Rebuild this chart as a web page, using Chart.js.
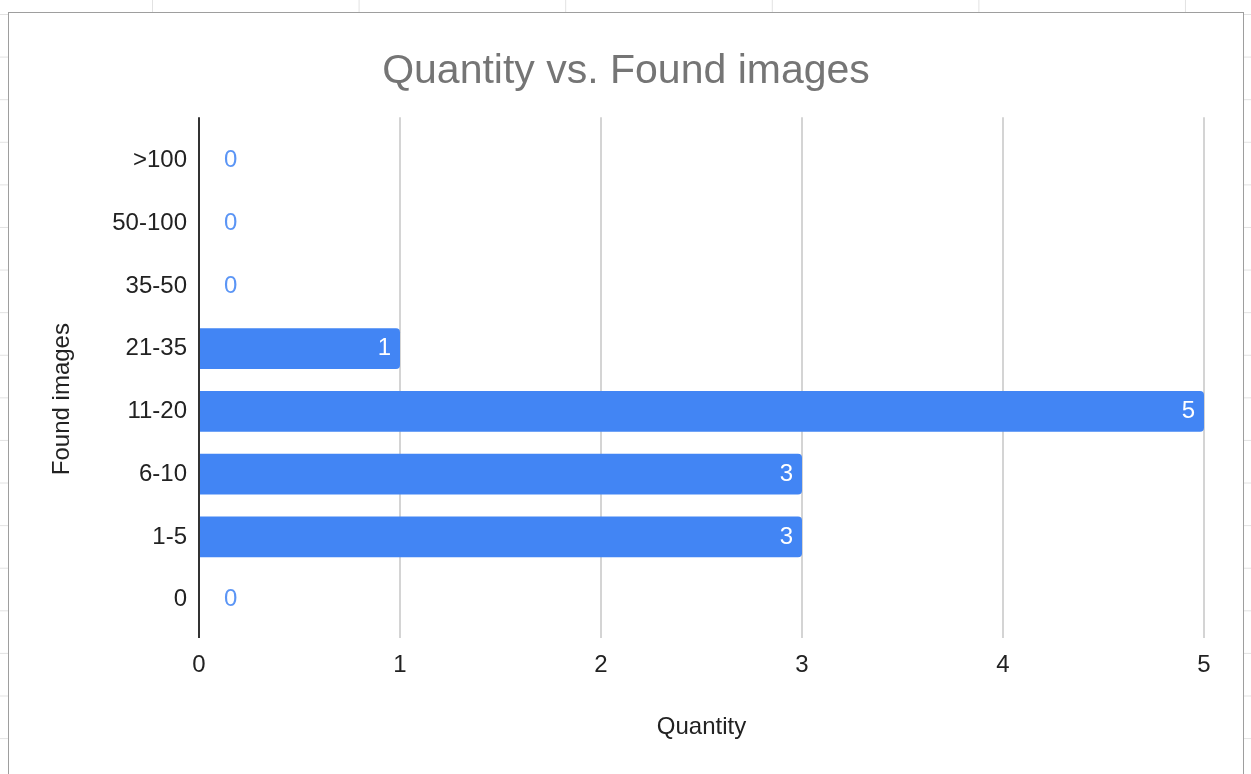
<!DOCTYPE html>
<html>
<head>
<meta charset="utf-8">
<title>Quantity vs. Found images</title>
<script src="https://cdn.jsdelivr.net/npm/chart.js@4"></script>
<style>
    html, body { margin: 0; padding: 0; }
    body {
        width: 1251px;
        height: 774px;
        overflow: hidden;
        position: relative;
        /* sheet cell lines behind the chart */
        background:
            linear-gradient(to right, #e2e2e2 1px, transparent 1px) 152px 0 / 206.6px 100%,
            linear-gradient(to bottom, #e2e2e2 1px, transparent 1px) 0 14px / 100% 42.6px,
            #fff;
    }
    #frame {
        position: absolute;
        left: 8px;
        top: 12px;
        width: 1234px;
        height: 780px;
        border: 1px solid #9e9e9e;
        background: #fff;
    }
    canvas { display: block; }
</style>
</head>
<body>
<div id="frame">
    <canvas id="foundChart" width="1234" height="761" style="width:1234px;height:761px"></canvas>
</div>
<script>
"use strict";

const categories = ['>100', '50-100', '35-50', '21-35', '11-20', '6-10', '1-5', '0'];
const quantities = [0, 0, 0, 1, 5, 3, 3, 0];
const quantityTicks = [0, 1, 2, 3, 4, 5];

const FONT = '"Liberation Sans", Arial, sans-serif';
const BAR_BLUE = '#4285f4';

Chart.defaults.font.family = FONT;
Chart.defaults.color = '#222222';

// grid lines overshoot the plot a little
const LINE_TOP = 12;
const LINE_BOTTOM = 7;

// vertical grid lines, baseline drawn dark on top of bars
const gridLines = {
    id: 'gridLines',
    beforeDatasetsDraw(chart) {
        const {ctx, chartArea, scales: {x}} = chart;
        ctx.save();
        ctx.lineWidth = 2;
        ctx.strokeStyle = '#d4d4d4';
        x.ticks.forEach(t => {
            if (t.value === 0) return;
            const px = Math.round(x.getPixelForValue(t.value));
            ctx.beginPath();
            ctx.moveTo(px, chartArea.top - LINE_TOP);
            ctx.lineTo(px, chartArea.bottom + LINE_BOTTOM);
            ctx.stroke();
        });
        ctx.restore();
    },
    afterDatasetsDraw(chart) {
        const {ctx, chartArea, scales: {x}} = chart;
        const px = Math.round(x.getPixelForValue(0));
        ctx.save();
        ctx.lineWidth = 2;
        ctx.strokeStyle = '#333333';
        ctx.beginPath();
        ctx.moveTo(px, chartArea.top - LINE_TOP);
        ctx.lineTo(px, chartArea.bottom + LINE_BOTTOM);
        ctx.stroke();
        ctx.restore();
    }
};

// value labels: inside the bar end, or next to the axis for zero
const valueLabels = {
    id: 'valueLabels',
    afterDatasetsDraw(chart) {
        const {ctx} = chart;
        const meta = chart.getDatasetMeta(0);
        ctx.save();
        ctx.font = '24px ' + FONT;
        ctx.textBaseline = 'middle';
        meta.data.forEach((bar, i) => {
            const v = quantities[i];
            if (v > 0) {
                ctx.fillStyle = '#ffffff';
                ctx.textAlign = 'right';
                ctx.fillText(String(v), bar.x - 9, bar.y);
            } else {
                ctx.fillStyle = '#5b95f5';
                ctx.textAlign = 'left';
                ctx.fillText(String(v), bar.base + 25, bar.y);
            }
        });
        ctx.restore();
    }
};

// y axis title sits a bit below the middle of the plot
const yTitle = {
    id: 'yTitle',
    afterDraw(chart) {
        const {ctx, chartArea} = chart;
        ctx.save();
        ctx.translate(53, (chartArea.top + chartArea.bottom) / 2 + 19);
        ctx.rotate(-Math.PI / 2);
        ctx.font = '24px ' + FONT;
        ctx.fillStyle = '#222222';
        ctx.textAlign = 'center';
        ctx.textBaseline = 'middle';
        ctx.fillText('Found images', 0, 0);
        ctx.restore();
    }
};

new Chart(document.getElementById('foundChart'), {
    type: 'bar',
    data: {
        labels: categories,
        datasets: [{
            label: 'Quantity',
            data: quantities,
            backgroundColor: BAR_BLUE,
            borderRadius: 4,
            barPercentage: 0.65,
            categoryPercentage: 1
        }]
    },
    options: {
        indexAxis: 'y',
        responsive: false,
        animation: false,
        layout: {
            padding: {left: 39, right: 39, top: 13, bottom: 32}
        },
        plugins: {
            legend: {display: false},
            tooltip: {enabled: false},
            title: {
                display: true,
                text: 'Quantity vs. Found images',
                color: '#757575',
                font: {size: 41, weight: 'normal'},
                padding: {top: 21, bottom: 33}
            }
        },
        scales: {
            x: {
                min: quantityTicks[0],
                max: quantityTicks[quantityTicks.length - 1],
                grid: {display: false, drawTicks: false},
                border: {display: false},
                ticks: {
                    stepSize: 1,
                    padding: 20,
                    color: '#222222',
                    font: {size: 24}
                },
                title: {
                    display: true,
                    text: 'Quantity',
                    color: '#222222',
                    font: {size: 24},
                    padding: 0
                },
                afterFit(scale) { scale.height = 111; }
            },
            y: {
                grid: {display: false, drawTicks: false},
                border: {display: false},
                ticks: {
                    padding: 12,
                    color: '#222222',
                    font: {size: 24}
                },
                afterFit(scale) { scale.width = 151; }
            }
        }
    },
    plugins: [gridLines, valueLabels, yTitle]
});
</script>
</body>
</html>
